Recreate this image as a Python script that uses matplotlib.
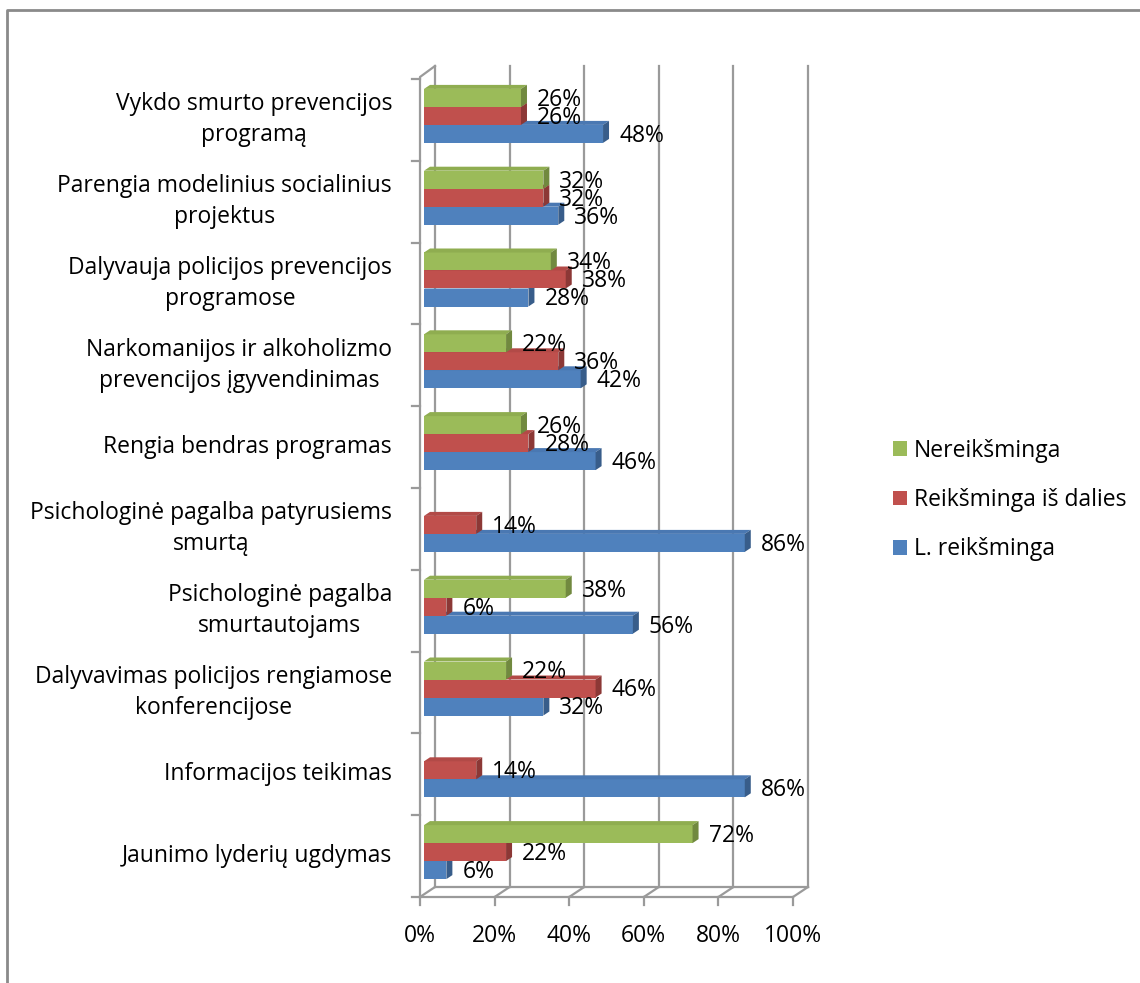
import matplotlib.pyplot as plt
from matplotlib.patches import Polygon, Patch
from matplotlib.lines import Line2D

# categories from top to bottom
categories = [
    'Vykdo smurto prevencijos\nprogramą',
    'Parengia modelinius socialinius\nprojektus',
    'Dalyvauja policijos prevencijos\nprogramose',
    'Narkomanijos ir alkoholizmo\nprevencijos įgyvendinimas',
    'Rengia bendras programas',
    'Psichologinė pagalba patyrusiems\nsmurtą',
    'Psichologinė pagalba\nsmurtautojams',
    'Dalyvavimas policijos rengiamose\nkonferencijose',
    'Informacijos teikimas',
    'Jaunimo lyderių ugdymas',
]
l_reiksminga = [48, 36, 28, 42, 46, 86, 56, 32, 86, 6]
is_dalies = [26, 32, 38, 36, 28, 14, 6, 46, 14, 22]
nereiksminga = [26, 32, 34, 22, 26, 0, 38, 22, 0, 72]
x_ticks = [0, 20, 40, 60, 80, 100]

series = [
    ('L. reikšminga', l_reiksminga, '#4F81BD', '#4A78B2', '#385D8A'),
    ('Reikšminga iš dalies', is_dalies, '#C0504D', '#B24A47', '#8C3836'),
    ('Nereikšminga', nereiksminga, '#9BBB59', '#8FAD50', '#71893F'),
]

plt.rcParams['font.family'] = ['Open Sans', 'DejaVu Sans']
fs = 16.5

W, H = 1140, 983
fig = plt.figure(figsize=(W / 100, H / 100), dpi=100)
ax = fig.add_axes([420 / W, 1 - 897 / H, 373 / W, 818 / H])
ax.set_xlim(0, 100)
ax.set_ylim(0, 10)
ax.axis('off')

px_x = 100 / 373
px_y = 10 / 818
n = len(categories)

# walls / grid
gc = '#9A9A9A'
glw = 1.6
wdx, wdy, wdy_top = 15 * px_x, 10 * px_y, 13 * px_y
for t in x_ticks:
    ax.plot([t + wdx, t + wdx], [wdy, 10 + wdy_top], color=gc, lw=glw, clip_on=False, zorder=1)
    ax.plot([t, t + wdx], [0, wdy], color=gc, lw=glw, clip_on=False, zorder=1)
    ax.plot([t, t], [0, -8 * px_y], color=gc, lw=glw, clip_on=False, zorder=1)
    ax.text(t, -39 * px_y, f'{t}%', ha='center', va='center', fontsize=fs)
ax.plot([0, 100], [0, 0], color=gc, lw=glw, clip_on=False, zorder=1)
ax.plot([wdx, 100 + wdx], [wdy, wdy], color=gc, lw=glw, clip_on=False, zorder=1)
ax.plot([0, 0, wdx], [0, 10 + 2 * px_y, 10 + wdy_top], color=gc, lw=glw, clip_on=False, zorder=1)
for k in range(n + 1):
    ax.plot([-8 * px_x, 0], [k, k], color=gc, lw=glw, clip_on=False, zorder=1)

# bars
bx, by = 4 * px_x, 4 * px_y
h = 18 * px_y
ddx, ddy = 6 * px_x, 4 * px_y
for i, cat in enumerate(categories):
    c = n - i - 0.5
    ax.text(-28 * px_x, c, cat, ha='right', va='center', multialignment='center',
            fontsize=fs, linespacing=1.38)
    for j, (name, vals, front, top, side) in enumerate(series):
        v = vals[i]
        yc = c + by + (j - 1) * h
        z = 3 + i * 0.01 + j
        if v > 0:
            ax.barh(yc, v, left=bx, height=h, color=front, zorder=z, edgecolor='none')
            yt, yb = yc + h / 2, yc - h / 2
            ax.add_patch(Polygon([(bx, yt), (bx + v, yt), (bx + v + ddx, yt + ddy), (bx + ddx, yt + ddy)],
                                 closed=True, facecolor=top, edgecolor='none', zorder=z))
            ax.add_patch(Polygon([(bx + v, yb), (bx + v, yt), (bx + v + ddx, yt + ddy), (bx + v + ddx, yb + ddy)],
                                 closed=True, facecolor=side, edgecolor='none', zorder=z))
            ax.text(bx + v + ddx + 10 * px_x, yc - 2 * px_y, f'{v}%', ha='left', va='center',
                    fontsize=fs, zorder=10)

# legend
handles = [Patch(facecolor=s[2], edgecolor='none', label=s[0]) for s in reversed(series)]
fig.legend(handles=handles, loc='center left', bbox_to_anchor=(872 / W, 1 - 500 / H),
           frameon=False, fontsize=fs, handlelength=0.62, handleheight=0.62,
           handletextpad=0.3, labelspacing=1.1)

# chart border
fig.add_artist(Line2D([7 / W, 7 / W, 1], [0, 1 - 10 / H, 1 - 10 / H], color='#8A8A8A', lw=2))

fig.savefig('out.png', dpi=100)
